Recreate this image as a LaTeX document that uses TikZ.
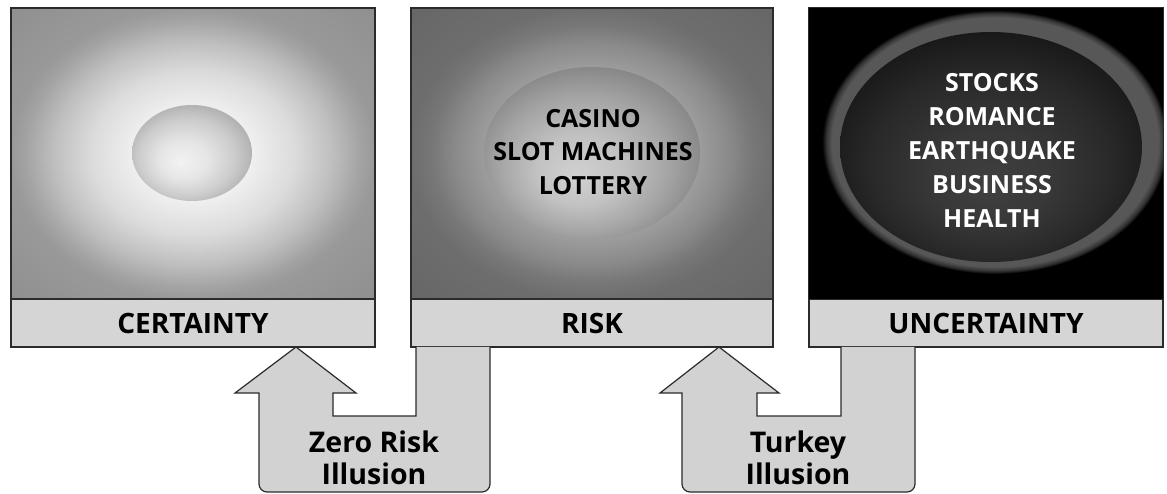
\documentclass[tikz,border=0pt]{standalone}
\usepackage{fontspec}
\setmainfont{Open Sans}
\usetikzlibrary{calc}
\definecolor{FrameInk}{HTML}{2B2B2B}
\definecolor{BarGray}{HTML}{D5D5D5}
\definecolor{ArrowGray}{HTML}{D2D2D2}
\pgfdeclareradialshading{certglow}{\pgfpoint{0bp}{0bp}}{color(0bp)=(black!3); color(8bp)=(black!6); color(14bp)=(black!14); color(19bp)=(black!25); color(23bp)=(black!36); color(25bp)=(black!40); color(36bp)=(black!44)}
\pgfdeclareradialshading{certegg}{\pgfpoint{-5bp}{-5bp}}{color(0bp)=(black!5); color(10bp)=(black!10); color(20bp)=(black!20); color(28bp)=(black!32); color(38bp)=(black!38)}
\pgfdeclareradialshading{riskglow}{\pgfpoint{0bp}{0bp}}{color(0bp)=(black!38); color(15bp)=(black!39); color(19bp)=(black!46); color(22bp)=(black!53); color(25bp)=(black!57); color(36bp)=(black!60)}
\pgfdeclareradialshading{riskegg}{\pgfpoint{-4bp}{-7bp}}{color(0bp)=(black!18); color(10bp)=(black!24); color(20bp)=(black!36); color(28bp)=(black!48); color(38bp)=(black!52)}
\pgfdeclareradialshading{uncring}{\pgfpoint{0bp}{0bp}}{color(0bp)=(black!64); color(23.6bp)=(black!66); color(24.4bp)=(black!80); color(25bp)=(black); color(36bp)=(black)}
\pgfdeclareradialshading{uncegg}{\pgfpoint{0bp}{-9bp}}{color(0bp)=(black!75); color(10bp)=(black!78); color(20bp)=(black!84); color(28bp)=(black!91); color(36bp)=(black!95)}

\begin{document}
\begin{tikzpicture}[x=1pt,y=1pt,line width=1.2pt,
    panel/.style={draw=FrameInk,minimum height=291pt,inner sep=0pt},
    bar/.style={draw=FrameInk,fill=BarGray,minimum height=48pt,inner sep=0pt,font=\fontsize{28}{30}\selectfont\bfseries},
    itemlist/.style={align=center,font=\fontsize{25}{33.5}\selectfont\bfseries},
    illusion/.style={draw=FrameInk,fill=ArrowGray},
    arrowtext/.style={align=center,font=\fontsize{28.5}{32}\selectfont\bfseries}]
  \useasboundingbox (0,0) rectangle (1167,493);
  \fill[white] (0,0) rectangle (1167,493);
  \foreach \n/\x/\w/\s/\t in {cert/193/364/certglow/CERTAINTY,risk/592/362/riskglow/RISK,unc/986/354/uncring/UNCERTAINTY} {
    \node[panel,minimum width=\w pt,shading=\s] (\n panel) at (\x,339.5) {};
    \node[bar,minimum width=\w pt] (\n bar) at (\x,170) {\t};
  }
  \fill[black] (uncpanel.south west) rectangle (uncpanel.north east);
  \begin{scope}
    \clip (uncpanel.south west) rectangle (uncpanel.north east);
    \shade[shading=uncring] (995,351) ellipse (173 and 132);
  \end{scope}
  \draw[FrameInk] (uncpanel.south west) rectangle (uncpanel.north east);
  \shade[shading=certegg] (192,340) ellipse (60 and 48);
  \shade[shading=riskegg] (592,340) ellipse (108 and 86);
  \shade[shading=uncegg] (991,346) ellipse (151 and 115);
  \node[itemlist] (riskitems) at (593,341) {CASINO\\SLOT MACHINES\\LOTTERY};
  \node[itemlist,white,font=\fontsize{25}{34}\selectfont\bfseries] (uncitems) at (992,342.5) {STOCKS\\ROMANCE\\EARTHQUAKE\\BUSINESS\\HEALTH};
  \draw[illusion] (416,146) -- (416,77) -- (333,77) -- (333,100) -- (356,100) -- (296,146)
    -- (235,100) -- (259,100) -- (259,9) arc[start angle=180,end angle=270,radius=8]
    -- (482,1) arc[start angle=270,end angle=360,radius=8] -- (490,146);
  \draw[illusion] (841,146) -- (841,77) -- (757,77) -- (757,100) -- (779,100) -- (719,146)
    -- (660,100) -- (682,100) -- (682,9) arc[start angle=180,end angle=270,radius=8]
    -- (907,1) arc[start angle=270,end angle=360,radius=8] -- (915,146);
  \node[arrowtext] (zerorisk) at (374,35.5) {Zero Risk\\Illusion};
  \node[arrowtext] (turkey) at (798,35.5) {Turkey\\Illusion};
\end{tikzpicture}
\end{document}
